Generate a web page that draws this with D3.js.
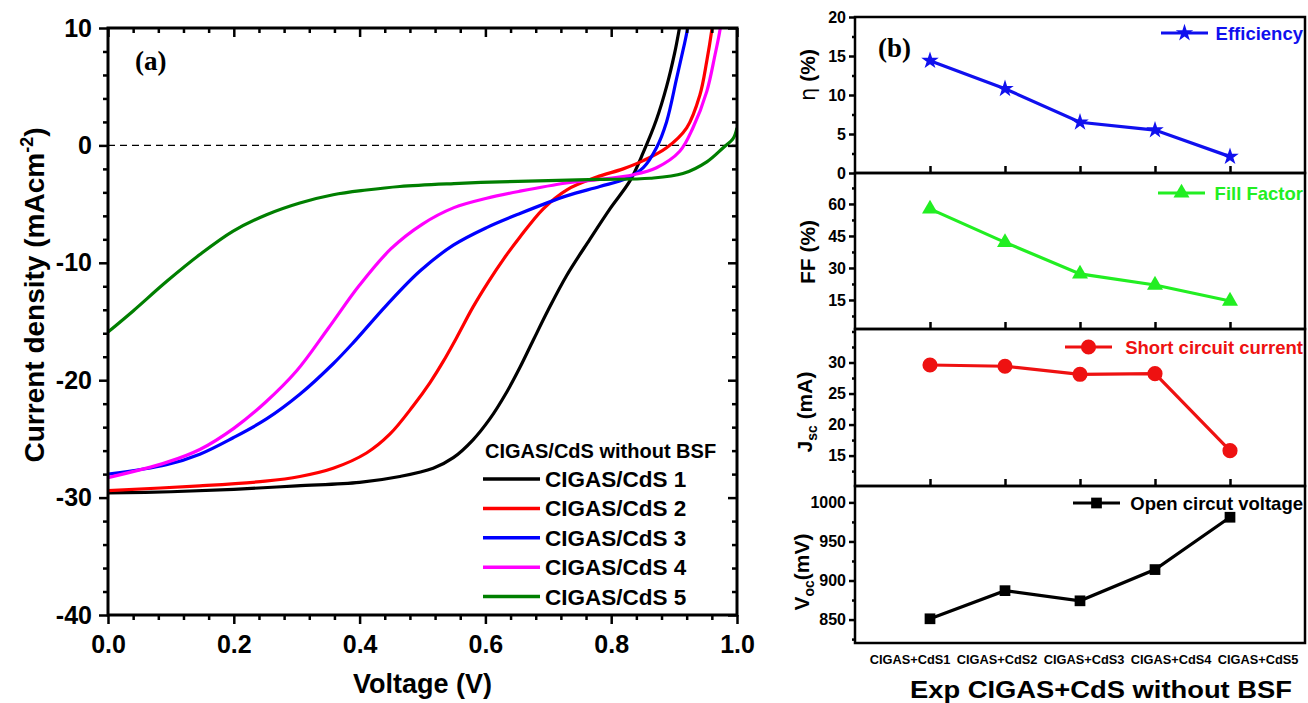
<!DOCTYPE html>
<html>
<head>
<meta charset="utf-8">
<script src="https://cdn.jsdelivr.net/npm/d3@7"></script>
<style>
  body { margin: 0; background: #fff; }
  svg { font-family: "Liberation Sans", Arial, sans-serif; font-weight: bold; }
</style>
</head>
<body>
<svg id="chart" width="1308" height="703"></svg>
<script>
// ---- data ----
// (a) J-V curves: [voltage (V), current density (mA/cm2)]
const jv1 = [[0,-29.6],[0.1,-29.5],[0.2,-29.3],[0.3,-29.0],[0.4,-28.7],[0.464,-28.2],[0.517,-27.5],[0.549,-26.6],[0.58,-25.1],[0.607,-23.3],[0.634,-21.0],[0.655,-18.9],[0.676,-16.6],[0.7,-14.0],[0.729,-11.1],[0.766,-8.0],[0.798,-5.4],[0.83,-3.0],[0.851,-0.6],[0.872,2.2],[0.888,5.0],[0.901,7.9],[0.908,9.85],[0.915,12]];
const jv2 = [[0,-29.4],[0.146,-29.0],[0.25,-28.6],[0.305,-28.2],[0.358,-27.5],[0.411,-26.2],[0.448,-24.6],[0.485,-22.2],[0.512,-20.2],[0.533,-18.4],[0.554,-16.4],[0.58,-13.8],[0.605,-11.6],[0.63,-9.6],[0.655,-7.8],[0.692,-5.4],[0.729,-3.8],[0.777,-2.7],[0.819,-2.0],[0.851,-1.3],[0.888,-0.2],[0.92,1.5],[0.941,4.3],[0.952,7.2],[0.96,9.85],[0.965,12]];
const jv3 = [[0,-28.0],[0.093,-27.2],[0.146,-26.3],[0.199,-24.9],[0.252,-23.3],[0.305,-21.2],[0.358,-18.6],[0.39,-16.8],[0.443,-13.6],[0.496,-10.7],[0.549,-8.5],[0.602,-7.0],[0.655,-5.8],[0.729,-4.3],[0.782,-3.5],[0.825,-2.8],[0.851,-1.9],[0.872,-0.2],[0.888,2.0],[0.904,5.7],[0.915,8.3],[0.921,9.85],[0.926,12]];
const jv4 = [[0,-28.3],[0.093,-27.0],[0.146,-25.9],[0.2,-24.1],[0.25,-21.9],[0.3,-19.2],[0.35,-15.6],[0.4,-11.9],[0.45,-8.8],[0.5,-6.7],[0.55,-5.3],[0.602,-4.5],[0.655,-3.9],[0.729,-3.2],[0.782,-2.9],[0.835,-2.5],[0.872,-1.9],[0.909,-0.5],[0.93,1.5],[0.952,4.6],[0.965,7.7],[0.973,9.85],[0.978,12]];
const jv5 = [[0,-15.9],[0.04,-14.1],[0.093,-11.6],[0.146,-9.3],[0.199,-7.3],[0.252,-5.9],[0.305,-4.9],[0.358,-4.2],[0.411,-3.8],[0.464,-3.5],[0.55,-3.25],[0.623,-3.1],[0.70,-3.0],[0.782,-2.9],[0.862,-2.8],[0.914,-2.4],[0.952,-1.4],[0.978,-0.2],[0.994,0.6],[1.0,1.5]];
const curveNames = ["CIGAS/CdS 1", "CIGAS/CdS 2", "CIGAS/CdS 3", "CIGAS/CdS 4", "CIGAS/CdS 5"];
const voltTicks = [0, 0.2, 0.4, 0.6, 0.8, 1.0];
const currentTicks = [-40, -30, -20, -10, 0, 10];

// (b) device parameters
const devices = ["CIGAS+CdS1", "CIGAS+CdS2", "CIGAS+CdS3", "CIGAS+CdS4", "CIGAS+CdS5"];
const efficiency = [14.4, 10.8, 6.5, 5.5, 2.1];
const fillFactor = [57.7, 42.0, 27.2, 22.0, 14.5];
const jscValues = [29.6, 29.4, 28.1, 28.2, 15.8];
const vocValues = [851, 887, 874, 914, 981];
const effTicks = [0, 5, 10, 15, 20];
const ffTicks = [15, 30, 45, 60];
const jscTicks = [15, 20, 25, 30];
const vocTicks = [850, 900, 950, 1000];

const svg = d3.select("#chart");
const plain = d => String(d);  // hyphen minus like the original, no thousands comma

// ================= panel (a) =================
const x = d3.scaleLinear().domain([0, 1]).range([108, 737]);
const y = d3.scaleLinear().domain([-40, 10]).range([615, 28]);
const colorsA = ["#000000", "#ff0000", "#0000ff", "#ff00ff", "#007f00"];

svg.append("defs").append("clipPath").attr("id", "clipA")
  .append("rect").attr("x", 108).attr("y", 28).attr("width", 629).attr("height", 587);

// zero line
svg.append("line")
  .attr("x1", x(0)).attr("x2", x(1)).attr("y1", y(0)).attr("y2", y(0))
  .attr("stroke", "#000").attr("stroke-width", 1.4).attr("stroke-dasharray", "7,5");

const lineA = d3.line().x(d => x(d[0])).y(d => y(d[1])).curve(d3.curveCatmullRom.alpha(0.5));
const gCurves = svg.append("g").attr("clip-path", "url(#clipA)");
[jv1, jv2, jv3, jv4, jv5].forEach((c, i) => {
  gCurves.append("path").datum(c)
    .attr("d", lineA)
    .attr("fill", "none")
    .attr("stroke", colorsA[i])
    .attr("stroke-width", 3.2);
});

function minorOf(lo, hi, step, majors) {
  const out = [];
  for (let v = lo; v <= hi + 1e-9; v += step) {
    const r = Math.round(v * 1000) / 1000;
    if (!majors.some(m => Math.abs(m - r) < 1e-6)) out.push(r);
  }
  return out;
}
const voltMinor = minorOf(0, 1, 0.04, voltTicks);
const currMinor = minorOf(-40, 10, 2, currentTicks);

function styleAxis(g) {
  g.select(".domain").remove();
  g.selectAll(".tick line").attr("stroke", "#000").attr("stroke-width", 2.5);
}
function styleLabels(size) {
  return g => g.selectAll("text").attr("font-size", size).attr("font-weight", "bold")
    .attr("font-family", "Liberation Sans, Arial, sans-serif").attr("fill", "#000");
}

// bottom (outward)
svg.append("g").attr("transform", `translate(0,${y(-40)})`)
  .call(d3.axisBottom(x).tickValues(voltTicks).tickSize(9).tickFormat(d3.format(".1f")))
  .call(styleAxis).call(styleLabels(25))
  .call(g => g.selectAll("text").attr("dy", "1.05em"));
svg.append("g").attr("transform", `translate(0,${y(-40)})`)
  .call(d3.axisBottom(x).tickValues(voltMinor).tickSize(5).tickFormat(""))
  .call(styleAxis);
// top (inward)
svg.append("g").attr("transform", `translate(0,${y(10)})`)
  .call(d3.axisTop(x).tickValues(voltTicks).tickSize(-9).tickFormat(""))
  .call(styleAxis);
svg.append("g").attr("transform", `translate(0,${y(10)})`)
  .call(d3.axisTop(x).tickValues(voltMinor).tickSize(-5).tickFormat(""))
  .call(styleAxis);
// left (outward)
svg.append("g").attr("transform", `translate(${x(0)},0)`)
  .call(d3.axisLeft(y).tickValues(currentTicks).tickSize(9).tickPadding(7).tickFormat(plain))
  .call(styleAxis).call(styleLabels(25));
svg.append("g").attr("transform", `translate(${x(0)},0)`)
  .call(d3.axisLeft(y).tickValues(currMinor).tickSize(5).tickFormat(""))
  .call(styleAxis);
// right (inward)
svg.append("g").attr("transform", `translate(${x(1)},0)`)
  .call(d3.axisRight(y).tickValues(currentTicks).tickSize(-9).tickFormat(""))
  .call(styleAxis);
svg.append("g").attr("transform", `translate(${x(1)},0)`)
  .call(d3.axisRight(y).tickValues(currMinor).tickSize(-5).tickFormat(""))
  .call(styleAxis);

svg.append("rect")
  .attr("x", x(0)).attr("y", y(10)).attr("width", x(1) - x(0)).attr("height", y(-40) - y(10))
  .attr("fill", "none").attr("stroke", "#000").attr("stroke-width", 3);

svg.append("text").attr("x", 135).attr("y", 70)
  .attr("font-family", "Liberation Serif, Times New Roman, serif").attr("font-size", 27)
  .text("(a)");

svg.append("text").attr("x", x(0.5)).attr("y", 693).attr("text-anchor", "middle")
  .attr("font-size", 27).text("Voltage (V)");

const yLab = svg.append("text")
  .attr("transform", "translate(44,295) rotate(-90)")
  .attr("text-anchor", "middle").attr("font-size", 28);
yLab.append("tspan").text("Current density (mAcm");
yLab.append("tspan").attr("font-size", 18).attr("dy", -11).text("-2");
yLab.append("tspan").attr("dy", 11).text(")");

// legend (a)
svg.append("text").attr("x", 485).attr("y", 458).attr("font-size", 20)
  .text("CIGAS/CdS without BSF");
curveNames.forEach((name, i) => {
  const ly = 479 + i * 29.4;
  svg.append("line").attr("x1", 483).attr("x2", 540).attr("y1", ly).attr("y2", ly)
    .attr("stroke", colorsA[i]).attr("stroke-width", 3.5);
  svg.append("text").attr("x", 545).attr("y", ly + 8).attr("font-size", 22.5).text(name);
});

// ================= panel (b) =================
const xb = d3.scalePoint().domain(devices).range([855, 1305]).padding(1);
const xbLabels = d3.scalePoint().domain(devices).range([910, 1258]);

const panels = [
  { values: efficiency, ticks: effTicks, domain: [0, 20], minor: 2.5, top: 17, bottom: 173,
    color: "#1010ee", symbol: d3.symbolStar, size: 95, legend: "Efficiency", lx: 1161, ly: 33 },
  { values: fillFactor, ticks: ffTicks, domain: [1.4, 74.5], minor: 7.5, top: 173, bottom: 329,
    color: "#22ee22", symbol: d3.symbolTriangle, size: 110, legend: "Fill Factor", lx: 1158, ly: 193 },
  { values: jscValues, ticks: jscTicks, domain: [10.1, 35.4], minor: 2.5, top: 329, bottom: 486,
    color: "#ee1111", symbol: d3.symbolCircle, size: 180, legend: "Short circuit current", lx: 1065, ly: 347 },
  { values: vocValues, ticks: vocTicks, domain: [820, 1021], minor: 25, top: 486, bottom: 643,
    color: "#000000", symbol: d3.symbolSquare, size: 115, legend: "Open circut voltage", lx: 1073, ly: 503 }
];

panels.forEach((p, idx) => {
  const ys = d3.scaleLinear().domain(p.domain).range([p.bottom, p.top]);
  const g = svg.append("g");

  // y ticks (outward)
  const minorVals = [];
  const start = Math.ceil(p.domain[0] / p.minor) * p.minor;
  for (let v = start; v <= p.domain[1]; v += p.minor) {
    if (!p.ticks.some(t => Math.abs(t - v) < 1e-6)) minorVals.push(v);
  }
  g.append("g").attr("transform", "translate(855,0)")
    .call(d3.axisLeft(ys).tickValues(p.ticks).tickSize(6).tickPadding(3).tickFormat(plain))
    .call(styleAxis).call(styleLabels(16));
  g.append("g").attr("transform", "translate(855,0)")
    .call(d3.axisLeft(ys).tickValues(minorVals).tickSize(3).tickFormat(""))
    .call(styleAxis);

  // x ticks (inward) on bottom of the upper panels
  if (idx < 3) {
    g.append("g").attr("transform", `translate(0,${p.bottom})`)
      .call(d3.axisTop(xb).tickSize(7).tickFormat(""))
      .call(styleAxis);
  }

  const line = d3.line().x((d, i) => xb(devices[i])).y(d => ys(d));
  g.append("path").datum(p.values).attr("d", line)
    .attr("fill", "none").attr("stroke", p.color).attr("stroke-width", 3.2);
  g.selectAll(".mk").data(p.values).enter().append("path")
    .attr("transform", (d, i) => `translate(${xb(devices[i])},${ys(d)})`)
    .attr("d", d3.symbol().type(p.symbol).size(p.size))
    .attr("fill", p.color);

  g.append("rect").attr("x", 855).attr("y", p.top).attr("width", 450).attr("height", p.bottom - p.top)
    .attr("fill", "none").attr("stroke", "#000").attr("stroke-width", 2.5);

  // legend
  g.append("line").attr("x1", p.lx).attr("x2", p.lx + 47).attr("y1", p.ly).attr("y2", p.ly)
    .attr("stroke", p.color).attr("stroke-width", 3.2);
  g.append("path").attr("transform", `translate(${p.lx + 23.5},${p.ly})`)
    .attr("d", d3.symbol().type(p.symbol).size(p.size)).attr("fill", p.color);
  g.append("text").attr("x", 1303).attr("y", p.ly + 7).attr("text-anchor", "end")
    .attr("font-size", 18.5).attr("fill", p.color).text(p.legend);
});

// y labels (b)
const lab1 = svg.append("text").attr("transform", "translate(815,75) rotate(-90)")
  .attr("text-anchor", "middle").attr("font-size", 21);
lab1.append("tspan").attr("font-weight", "normal").attr("font-family", "DejaVu Sans, sans-serif").text("η");
lab1.append("tspan").text(" (%)");

svg.append("text").attr("transform", "translate(815,252) rotate(-90)")
  .attr("text-anchor", "middle").attr("font-size", 21).text("FF (%)");

const lab3 = svg.append("text").attr("transform", "translate(812,412) rotate(-90)")
  .attr("text-anchor", "middle").attr("font-size", 21);
lab3.append("tspan").text("J");
lab3.append("tspan").attr("font-size", 14).attr("dy", 5).text("sc");
lab3.append("tspan").attr("dy", -5).text(" (mA)");

const lab4 = svg.append("text").attr("transform", "translate(809,572) rotate(-90)")
  .attr("text-anchor", "middle").attr("font-size", 21);
lab4.append("tspan").text("V");
lab4.append("tspan").attr("font-size", 14).attr("dy", 5).text("oc");
lab4.append("tspan").attr("dy", -5).text("(mV)");

// x category labels
svg.append("g").selectAll("text").data(devices).enter().append("text")
  .attr("x", d => xbLabels(d)).attr("y", 664).attr("text-anchor", "middle")
  .attr("font-size", 12.8).text(d => d);

svg.append("text").attr("x", 1101).attr("y", 698).attr("text-anchor", "middle")
  .attr("font-size", 24).attr("textLength", 382).attr("lengthAdjust", "spacingAndGlyphs")
  .text("Exp CIGAS+CdS without BSF");

svg.append("text").attr("x", 878).attr("y", 57)
  .attr("font-family", "Liberation Serif, Times New Roman, serif").attr("font-size", 27)
  .text("(b)");
</script>
</body>
</html>
